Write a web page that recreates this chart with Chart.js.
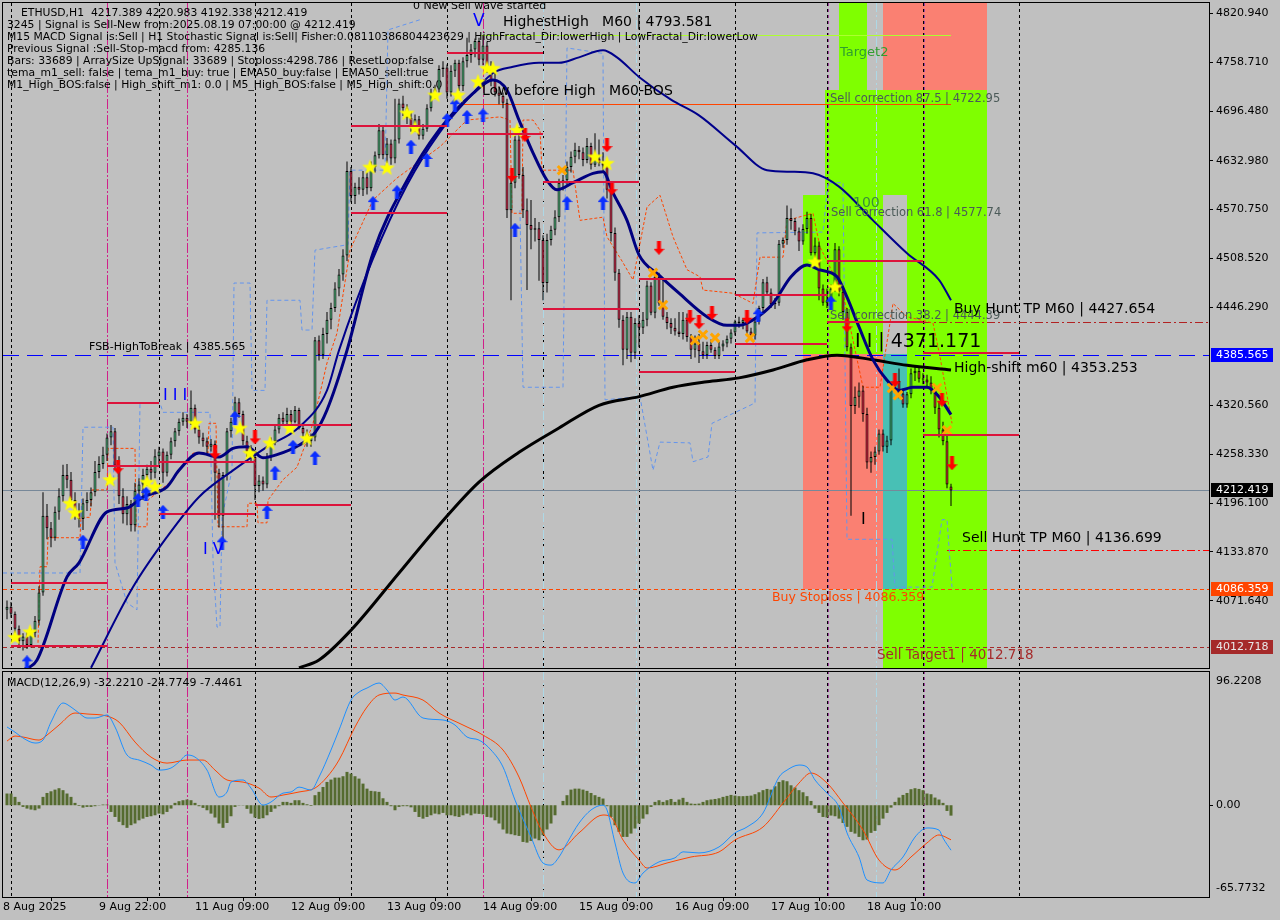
<!DOCTYPE html>
<html>
<head>
<meta charset="utf-8">
<title>ETHUSD,H1</title>
<script src="https://cdn.jsdelivr.net/npm/chart.js@4.4.1/dist/chart.umd.min.js"></script>
<style>
  html, body { margin: 0; padding: 0; background: #C0C0C0; }
  #stage { position: relative; width: 1280px; height: 920px; overflow: hidden; background: #C0C0C0; }
  #priceCanvas { position: absolute; left: 0; top: 0; }
  #macdCanvas { position: absolute; left: 0; top: 670px; }
</style>
</head>
<body>
<div id="stage">
  <canvas id="priceCanvas" width="1280" height="670"></canvas>
  <canvas id="macdCanvas" width="1280" height="250"></canvas>
</div>
<script>
// ---------------- ETHUSD H1 candles (bar 0 = 8 Aug 22:00) ----------------
const opens = [
4060,4064,4055,4036,4020,4026,4015,4030,4046,4082,
4180,4164,4152,4185,4205,4232,4226,4200,4186,4176,
4196,4200,4210,4236,4246,4258,4280,4288,4244,4205,
4182,4195,4168,4212,4220,4232,4240,4235,4256,4262,
4235,4258,4275,4288,4300,4305,4300,4318,4290,4280,
4275,4268,4272,4235,4180,4232,4288,4300,4325,4310,
4275,4262,4255,4218,4225,4220,4255,4275,4290,4305,
4300,4310,4300,4315,4292,4285,4275,4280,4404,4385,
4412,4430,4445,4470,4488,4512,4620,4588,4600,4596,
4612,4598,4625,4640,4672,4640,4655,4636,4660,4706,
4700,4688,4676,4686,4665,4674,4700,4720,4724,4750,
4752,4720,4748,4758,4728,4760,4768,4775,4786,4762,
4780,4752,4735,4720,4716,4707,4570,4605,4660,4615,
4570,4551,4545,4547,4532,4477,4532,4545,4561,4605,
4608,4625,4638,4647,4644,4634,4652,4628,4636,4630,
4627,4596,4541,4490,4430,4392,4434,4388,4426,4420,
4430,4474,4439,4485,4451,4434,4426,4420,4415,4412,
4430,4408,4392,4400,4390,4385,4398,4392,4384,4396,
4400,4406,4414,4428,4426,4430,4415,4410,4428,4445,
4478,4465,4450,4452,4527,4532,4560,4556,4543,4530,
4546,4560,4515,4525,4470,4452,4455,4470,4520,4466,
4440,4395,4320,4332,4340,4310,4248,4255,4262,4285,
4268,4276,4345,4352,4336,4322,4335,4362,4365,4355,
4354,4350,4340,4318,4290,4275,4217.389];
const highs = [
4072,4070,4058,4040,4030,4032,4036,4052,4090,4210,
4195,4172,4192,4215,4245,4246,4236,4210,4196,4202,
4210,4216,4250,4256,4268,4285,4296,4292,4256,4215,
4205,4200,4222,4228,4240,4245,4250,4265,4268,4266,
4262,4280,4292,4304,4312,4310,4340,4322,4295,4286,
4280,4278,4276,4240,4236,4292,4305,4332,4330,4314,
4282,4270,4258,4232,4230,4260,4280,4295,4310,4312,
4318,4315,4320,4318,4296,4290,4285,4408,4410,4420,
4440,4452,4478,4495,4520,4632,4625,4605,4612,4620,
4618,4632,4645,4680,4676,4662,4660,4712,4712,4716,
4705,4695,4692,4690,4680,4705,4725,4730,4755,4760,
4756,4755,4762,4762,4765,4790,4782,4789,4790,4793.581,
4785,4760,4745,4728,4720,4712,4612,4665,4676,4625,
4585,4583,4560,4555,4538,4540,4550,4570,4610,4615,
4632,4645,4656,4652,4650,4662,4656,4668,4660,4644,
4632,4600,4548,4495,4436,4440,4440,4432,4436,4440,
4480,4478,4490,4490,4482,4440,4432,4432,4440,4440,
4438,4412,4410,4412,4402,4402,4405,4395,4402,4404,
4410,4418,4430,4434,4432,4434,4420,4432,4448,4482,
4485,4470,4458,4532,4535,4576,4572,4560,4548,4552,
4568,4565,4535,4530,4475,4470,4475,4528,4524,4470,
4445,4400,4345,4350,4346,4318,4262,4268,4290,4290,
4282,4348,4360,4368,4342,4338,4368,4372,4370,4362,
4360,4358,4345,4325,4300,4282,4220.983];
const lows = [
4048,4050,4030,4012,4008,4010,4012,4025,4040,4078,
4150,4140,4148,4175,4198,4215,4195,4175,4165,4162,
4186,4192,4205,4228,4240,4250,4270,4238,4195,4170,
4168,4160,4160,4200,4200,4218,4225,4228,4245,4222,
4230,4252,4268,4282,4295,4292,4296,4285,4272,4268,
4260,4262,4175,4165,4150,4225,4280,4296,4305,4270,
4255,4248,4200,4210,4212,4215,4250,4270,4285,4295,
4296,4296,4298,4290,4280,4268,4268,4275,4378,4380,
4400,4418,4440,4460,4480,4505,4580,4578,4590,4588,
4590,4594,4618,4636,4635,4630,4628,4630,4655,4690,
4680,4670,4670,4660,4660,4670,4696,4712,4720,4740,
4712,4715,4740,4722,4722,4752,4758,4765,4755,4755,
4745,4728,4715,4705,4700,4560,4455,4598,4610,4560,
4468,4520,4530,4480,4455,4465,4525,4538,4555,4595,
4600,4618,4630,4635,4626,4630,4622,4625,4626,4620,
4585,4530,4480,4420,4372,4380,4376,4380,4395,4412,
4422,4436,4432,4448,4430,4418,4412,4410,4408,4405,
4402,4380,4382,4375,4380,4380,4388,4380,4380,4390,
4395,4400,4410,4420,4418,4412,4405,4405,4424,4440,
4462,4445,4444,4448,4522,4526,4545,4538,4518,4526,
4540,4512,4508,4455,4448,4445,4450,4466,4460,4430,
4390,4180,4310,4318,4300,4240,4235,4245,4258,4262,
4260,4270,4338,4330,4318,4318,4330,4352,4350,4348,
4345,4335,4310,4280,4270,4215,4192.338];
const closes = [
4064,4055,4036,4020,4026,4015,4030,4046,4082,4180,
4164,4152,4185,4205,4232,4226,4200,4186,4176,4196,
4200,4210,4236,4246,4258,4280,4288,4244,4205,4182,
4195,4168,4212,4220,4232,4240,4235,4256,4262,4235,
4258,4275,4288,4300,4305,4300,4318,4290,4280,4275,
4268,4272,4235,4180,4232,4288,4300,4325,4310,4275,
4262,4255,4218,4225,4220,4255,4275,4290,4305,4300,
4310,4300,4315,4292,4285,4275,4280,4404,4385,4412,
4430,4445,4470,4488,4512,4620,4588,4600,4596,4612,
4598,4625,4640,4672,4640,4655,4636,4660,4706,4700,
4688,4676,4686,4665,4674,4700,4720,4724,4750,4752,
4720,4748,4758,4728,4760,4768,4775,4786,4762,4780,
4752,4735,4720,4716,4707,4570,4605,4660,4615,4570,
4551,4545,4547,4532,4477,4532,4545,4561,4605,4608,
4625,4638,4647,4644,4634,4652,4628,4636,4630,4627,
4596,4541,4490,4430,4392,4434,4388,4426,4420,4430,
4474,4439,4485,4451,4434,4426,4420,4415,4412,4430,
4408,4392,4400,4390,4385,4398,4392,4384,4396,4400,
4406,4414,4428,4426,4430,4415,4410,4428,4445,4478,
4465,4450,4452,4527,4532,4560,4556,4543,4530,4546,
4560,4515,4525,4470,4452,4455,4470,4520,4466,4440,
4395,4320,4332,4340,4310,4248,4255,4262,4285,4268,
4276,4345,4352,4336,4322,4335,4362,4365,4355,4354,
4350,4340,4318,4290,4275,4220,4212.419];

// ---------------- moving averages (bar index, price) ----------------
const emaFastIdx = [4,7.5,15,18,25,30,34,40,43,48,53,56.5,60,64,67.5,73,77,80,85,91.5,100,108,116.5,121.5,125,128,131.5,135,137.5,141.5,146.5,149,151.5,155,158,163,168,175,180,183,186.5,191.5,196,200,203,207.5,210,213,216.5,220,223,226.5,230,233,236];
const emaFastVal = [3983,3996,4102,4120,4185,4190,4204,4217,4238,4260,4255,4266,4268,4254,4258,4270,4286,4315,4391,4515,4608,4672,4719,4736,4723,4685,4643,4608,4596,4605,4617,4619,4592,4557,4513,4487,4464,4434,4423,4423,4430,4451,4485,4500,4494,4485,4459,4421,4379,4353,4340,4344,4344,4332,4309];
const emaSlowIdx = [21,31.5,40,48,56.5,65,73,80,83,91.5,100,108,116.5,121.5,126.5,133,138,143,149,152.5,158,166,173,182,190,196,201.5,208,216.5,225,233,236];
const emaSlowVal = [3986,4089,4153,4204,4238,4268,4293,4340,4391,4508,4602,4668,4719,4745,4753,4758,4758,4765,4774,4765,4740,4711,4691,4653,4621,4619,4617,4600,4557,4515,4481,4455];
const smaIdx = [73,78,86,98,108,118,128,138,148,158,166.5,175,183,191.5,200,207.5,216.5,225,236];
const smaVal = [3986,3996,4034,4107,4168,4223,4261,4292,4321,4332,4344,4351,4356,4366,4379,4385,4379,4372,4366];

// ---------------- stepped channel traces ----------------
const orangePathIdx = [7.75,8.25,10,10.25,18.25,18.5,20.75,21.25,25,25.25,32,32.25,35,35.25,41.5,46.5,50.25,50.5,52.25,52.75,60,60.25,62.5,62.75,65,65.25,69,72.5,76.5,80,82.5,85.75,91.5,97.5,108.25,115,123.25,125.75,126.25,128.75,129,131.5,133.25,133.75,141.5,143.25,149,150,154,156.5,160,163.25,166.5,170,173.25,174,181.5,186.5,188.25,194,195,201.5,203.25,209,214,218.25,221.5,225,231.5,233.25,236.25];
const orangePathVal = [4018,4115,4115,4152,4152,4178,4178,4213,4213,4266,4266,4166,4166,4200,4226,4260,4260,4298,4298,4166,4166,4196,4196,4171,4171,4200,4226,4242,4298,4375,4413,4519,4583,4611,4651,4685,4689,4685,4566,4566,4685,4685,4672,4621,4621,4557,4561,4536,4503,4481,4574,4589,4536,4494,4485,4468,4464,4451,4510,4510,4557,4566,4523,4464,4344,4344,4451,4434,4426,4383,4298];
const bluePathIdx = [-1,18.25,19,26.5,27,30,32.5,33.25,38.25,39,50.75,51.5,52.5,53.25,53.75,56.25,56.75,60.75,61.25,64.5,65,73.25,73.75,76.25,77,85.25,85.75,94.5,95.25,103.25,110,128.25,129,139,140,149,149.5,158.25,161.5,163.25,170.75,171.5,175.25,176.25,185,187,187.5,204,205.25,209,210,221.25,222,231.25,233.75,235,236.25];
const bluePathVal = [4107,4107,4293,4293,4120,4069,4060,4324,4324,4312,4312,4124,4038,4038,4178,4238,4477,4477,4340,4340,4455,4455,4417,4417,4519,4526,4621,4621,4800,4813,null,4570,4344,4344,4777,4770,4328,4332,4238,4274,4273,4249,4255,4298,4319,4324,4541,4542,4605,4605,4150,4150,4089,4089,4175,4175,4089];

// ---------------- signal markers ----------------
const starIdx = [2,5.75,15.75,17,25.75,35,37,47,58.25,60.75,65.75,70.75,75,90.75,95,100,102,107,112.75,117.75,120,121.5,127.5,147,150,202,207];
const starVal = [4025,4032,4196,4184,4226,4223,4217,4298,4292,4260,4273,4292,4279,4625,4624,4694,4675,4717,4717,4734,4751,4751,4672,4638,4630,4504,4472];
const upIdx = [5,19,32.75,34.75,39,53.75,57,65,67,71.5,77,91.5,97.5,101,105,110,112,115,119,127,140,149,187.75,206];
const upVal = [3993,4147,4200,4208,4185,4145,4305,4185,4235,4268,4254,4579,4593,4651,4634,4685,4704,4689,4691,4545,4579,4579,4436,4452];
const downIdx = [27.75,52,62,126.25,129.5,150,151.25,163,170.75,173,176.25,185,210,222,233.75,236.25];
const downVal = [4242,4261,4280,4615,4666,4653,4598,4522,4434,4427,4439,4434,4423,4353,4328,4247];
const crossIdx = [138.75,161.5,164,172,174,177,185.75,221.25,222.75,232.5,235];
const crossVal = [4621,4490,4449,4404,4411,4407,4407,4343,4334,4343,4289];

// ---------------- daily high / low levels ----------------
const levelFrom = [1,1,25,25,38,38,62,62,86,86,110,110,134,134,158,158,182,182,205,205,229,229];
const levelTo = [25,25,38,38,62,62,86,86,110,110,134,134,158,158,182,182,205,205,229,229,253,253];
const levelPrice = [4094,4014,4324,4243,4249,4182,4296,4194,4677,4566,4771,4667,4606,4444,4482,4363,4462,4399,4505,4427,4388,4283];

// ---------------- target / correction zones ----------------
const zoneFrom = [208,219,204.5,199,225,199,219,219];
const zoneTo = [215,245,245,219,245,219,225,225];
const zoneLow = [4722.95,4722.95,4589,4386,3980,4086.359,4086.359,3980];
const zoneHigh = [4840,4840,4722.95,4589,4589,4386,4386,4086.359];
const zoneKind = ['target','stop','target','target','target','stop','hunt','target'];

// ---------------- horizontal levels ----------------
const hLinePrice = [4385.565,4212.419,4086.359,4012.718,4427.654,4136.699,4793.581,4706];
const hLineFrom = [-1,-1,-1,-1,229,235,117.5,114];
const hLineTo = [300.5,300.5,300.5,300.5,300.5,300.5,236,236];

// ---------------- axis values ----------------
const priceTicks = [4820.94,4758.71,4696.48,4632.98,4570.75,4508.52,4446.29,4320.56,4258.33,4196.10,4133.87,4071.64];
const priceBoxes = [4385.565,4212.419,4086.359,4012.718];
const timeTickIdx = [-1,23,47,71,95,119,143,167,191,215];
const timeLabels = ['8 Aug 2025','9 Aug 22:00','11 Aug 09:00','12 Aug 09:00','13 Aug 09:00','14 Aug 09:00','15 Aug 09:00','16 Aug 09:00','17 Aug 10:00','18 Aug 10:00'];
const daySepIdx = [1,38,62,86,110,134,158,182,205,229,253];
const magentaIdx = [25,45,119];
const violetIdx = [205,229];
const skyIdx = [134,157.25,217.25];

// ---------------- MACD(12,26,9) ----------------
const macdIdx = [0,2,4,7,9,11,14,16,18,20,22,25,27,30,33,36,38,41,43,45,47,50,53,55,56,59,61,64,66,69,71,73,76,78,81,83,86,88,90,93,95,97,99,104,109,112,115,118,121,124,127,131,134,136,138,140,143,146,149,150,152,154,157,159,163,167,169,173,178,182,185,189,193,195,198,200,202,205,208,210,213,215,219,221,224,227,230,233,234,236];
const macdVal = [56.1,52.4,48.2,44.6,46.7,59.6,73.3,70.4,66.1,62.5,62.5,64.7,56.1,36.0,32.4,28.8,25.2,26.7,31.0,36.0,34.5,25.2,5.9,9.5,16.6,18.1,12.3,0.1,2.3,8.7,9.5,13.0,10.9,20.2,39.6,53.9,75.4,81.1,84.0,87.6,82.6,75.4,77.6,62.5,61.1,57.5,48.9,46.7,39.6,27.4,3.7,-22.8,-41.4,-42.9,-37.1,-27.1,-12.8,-3.4,0.1,-3.4,-27.1,-48.6,-55.7,-48.6,-40.6,-37.7,-33.4,-34.2,-29.9,-19.8,-15.6,-5.6,20.2,25.2,28.8,27.4,18.1,8.7,-1.3,-19.8,-37.1,-53.6,-55.7,-46.4,-37.1,-22.8,-16.3,-17.8,-23.5,-32.221];
const signalIdx = [0,2,4,8,10,13,17,20,25,28,32,36,40,45,49,52,55,59,63,66,69,73,77,80,83,87,90,93,97,99,104,108,114,119,124,128,131,134,138,143,149,151,154,158,160,165,171,178,182,189,194,198,201,205,209,214,218,222,226,230,233,236];
const signalVal = [46.0,49.6,48.9,46.7,50.3,57.5,66.1,65.4,63.9,59.6,45.3,34.5,30.2,32.4,32.4,25.2,18.1,16.6,12.3,5.9,7.3,9.5,12.3,20.2,32.4,56.1,70.4,79.0,80.4,79.0,75.4,66.1,57.5,50.3,39.6,20.2,-1.3,-19.8,-32.0,-19.8,-7.0,-8.5,-24.9,-39.3,-45.0,-41.4,-37.1,-33.5,-24.9,-15.6,1.6,15.9,23.1,15.9,1.6,-17.8,-39.3,-46.4,-37.1,-27.0,-21.3,-24.775];
const histVal = [
8.4,8.4,6.0,2.4,-1.2,-2.4,-3.1,-3.6,-2.4,6.0,
8.8,10.0,11.2,12.2,10.8,8.4,6.0,1.7,-0.5,-1.7,
-1.2,-1.2,-0.7,-0.2,0.5,0.5,-4.8,-8.4,-11.9,-14.3,
-16.2,-14.3,-13.1,-10.8,-9.6,-8.4,-7.9,-7.2,-6.0,-6.5,
-4.8,-2.4,1.7,2.9,3.6,4.1,3.6,1.7,-0.7,-1.9,
-3.6,-6.0,-8.8,-13.1,-16.2,-12.7,-7.9,-1.2,-0.2,-0.2,
-2.6,-6.0,-8.8,-9.8,-9.3,-7.2,-4.8,-2.4,-0.7,2.4,
2.4,1.7,3.6,3.6,1.7,0.7,-0.5,7.2,9.6,13.1,
16.7,18.4,19.8,19.8,20.8,23.9,22.7,20.8,19.1,15.5,
11.9,10.3,10.0,9.6,5.0,2.4,-0.7,-3.6,-1.2,-0.7,
-0.7,-1.5,-4.8,-8.4,-9.6,-8.4,-7.2,-6.0,-6.5,-5.5,
-7.2,-7.2,-7.9,-8.4,-7.2,-6.0,-7.2,-6.0,-6.2,-6.5,
-8.4,-8.8,-10.8,-13.1,-17.4,-20.3,-20.8,-21.5,-22.0,-26.3,
-26.8,-25.6,-23.9,-25.1,-21.5,-17.4,-13.1,-7.2,0,3.1,
7.2,11.2,11.9,11.9,11.2,10.3,8.8,7.2,6.0,4.8,
-0.7,-8.4,-14.3,-19.1,-22.7,-22.7,-20.3,-16.7,-13.1,-9.6,
-6.5,-1.2,2.4,3.6,2.4,3.6,4.5,2.4,4.1,5.3,
2.4,1.2,1.0,1.2,2.4,3.6,4.1,4.5,5.0,6.0,
6.7,7.4,6.9,6.5,6.5,6.7,6.9,7.9,9.3,10.8,
11.7,11.2,13.6,16.7,17.9,17.2,14.3,12.7,10.8,9.3,
6.5,3.1,-2.4,-5.5,-8.4,-8.8,-7.4,-7.9,-9.6,-12.7,
-15.5,-19.1,-20.3,-22.7,-25.1,-24.6,-19.8,-18.4,-14.3,-9.6,
-5.5,-1.7,2.4,5.5,7.4,8.8,11.5,12.2,11.7,10.8,
8.4,7.9,5.5,4.1,1.7,-4.1,-7.45];
const macdRange = [-65.7732, 96.2208];

// ---------------- text ----------------
const headerLines = [
  'ETHUSD,H1  4217.389 4220.983 4192.338 4212.419',
  '3245 | Signal is Sell-New from:2025.08.19 07:00:00 @ 4212.419',
  'M15 MACD Signal is:Sell | H1 Stochastic Signal is:Sell| Fisher:0.08110386804423629 | HighFractal_Dir:lowerHigh | LowFractal_Dir:lowerLow',
  'Previous Signal :Sell-Stop-macd from: 4285.136',
  'Bars: 33689 | ArraySize UpSignal: 33689 | Stoploss:4298.786 | ResetLoop:false',
  'tema_m1_sell: false | tema_m1_buy: true | EMA50_buy:false | EMA50_sell:true',
  'M1_High_BOS:false | High_shift_m1: 0.0 | M5_High_BOS:false | M5_High_shift:0.0'
];
const noteText = ['0 New Sell wave started','HighestHigh   M60 | 4793.581','Low before High   M60-BOS','Target2','Sell correction 87.5 | 4722.95','100','Sell correction 61.8 | 4577.74','Sell correction 38.2 | 4444.39','Buy Hunt TP M60 | 4427.654','I I | 4371.171','High-shift m60 | 4353.253','FSB-HighToBreak | 4385.565','Sell Hunt TP M60 | 4136.699','Buy Stoploss | 4086.359','Sell Target1 | 4012.718','I I I','I V','V','I'];
const noteIdx = [101.5,124,118.75,208.25,205.75,211.5,206,205.75,236.75,212,236.75,20.5,238.75,191.25,217.5,39,49,116.5,213.5];
const notePrice = [4830.5,4810.1,4722.0,4770.5,4711.8,4579.0,4566.4,4434.9,4443.9,4401.8,4368.6,4395.4,4151.6,4075.1,4001.1,4332.9,4136.3,4810.0,4174.6];
const noteSize = [11,14,14,13,11.5,14,11.5,11.5,14,19,14,11,14,12.5,13.5,16,16,17,16];
const noteColor = ['#000000','#000000','#000000','#2F9E2F','#4B5A58','#3B8F3B','#4B5A58','#4B5A58','#000000','#000000','#000000','#000000','#000000','#FF4500','#A52A2A','#0000FF','#0000FF','#0000FF','#000000'];

// ---------------- styling ----------------
const FACE = '"DejaVu Sans", "Liberation Sans", sans-serif';
const font = s => s + 'px ' + FACE;
const BULL = '#3CB371', BEAR = '#DC143C', BG = '#C0C0C0';
const zoneColors = { target: '#7FFF00', stop: '#FA8072', hunt: '#48C0B5' };
const hLineColor = ['#0000FF','#778899','#FF4500','#A52A2A','#B22222','#FF0000','#ADFF2F','#FF4500'];
const hLineDash = [[16,8],[],[4,3],[4,3],[8,3,2,3],[8,3,2,3],[],[]];
const boxBg = ['#0000FF','#000000','#FF4500','#A52A2A'];
const boxFg = ['#FFFFFF','#FFFFFF','#FFFFFF','#E8E8E8'];

function makeStar() {
  const c = document.createElement('canvas'); c.width = 17; c.height = 17;
  const g = c.getContext('2d'); g.fillStyle = '#FFFF00'; g.beginPath();
  for (let k = 0; k < 10; k++) {
    const r = k % 2 ? 3.3 : 8.3, a = -Math.PI / 2 + k * Math.PI / 5;
    g.lineTo(8.5 + r * Math.cos(a), 9 + r * Math.sin(a));
  }
  g.closePath(); g.fill(); return c;
}
function makeArrow(color, up) {
  const c = document.createElement('canvas'); c.width = 11; c.height = 14;
  const g = c.getContext('2d'); g.fillStyle = color; g.beginPath();
  const pts = [[5.5,0],[11,6],[7.5,6],[7.5,14],[3.5,14],[3.5,6],[0,6]];
  pts.forEach(([px, py], k) => { const yy = up ? py : 14 - py; k ? g.lineTo(px, yy) : g.moveTo(px, yy); });
  g.closePath(); g.fill(); return c;
}
const starImg = makeStar(), upImg = makeArrow('#0A2EFF', true), downImg = makeArrow('#FF0000', false);

const pairs = (xs, ys) => xs.map((v, k) => ({ x: v, y: ys[k] }));

function clipArea(ctx, a) { ctx.beginPath(); ctx.rect(a.left, a.top, a.right - a.left, a.bottom - a.top); ctx.clip(); }
function drawSeparators(ctx, x, top, bottom) {
  const v = (idx, color, dash) => {
    const p = Math.round(x.getPixelForValue(idx)) + 0.5;
    ctx.strokeStyle = color; ctx.lineWidth = 1; ctx.setLineDash(dash);
    ctx.beginPath(); ctx.moveTo(p, top); ctx.lineTo(p, bottom); ctx.stroke();
  };
  daySepIdx.forEach(i => v(i, '#000000', [3, 3]));
  violetIdx.forEach(i => v(i + 0.25, '#A040A0', [3, 3]));
  skyIdx.forEach(i => v(i, '#ADD8E6', [9, 3, 2, 3]));
  magentaIdx.forEach(i => v(i, '#D0208A', [10, 2, 2, 2]));
  ctx.setLineDash([]);
}

// ---------------- price panel ----------------
const pricePanel = {
  id: 'pricePanel',
  beforeDraw(chart) {
    const ctx = chart.ctx; ctx.save(); ctx.fillStyle = BG; ctx.fillRect(0, 0, chart.width, chart.height); ctx.restore();
  },
  beforeDatasetsDraw(chart) {
    const { ctx, chartArea: a, scales: { x, y } } = chart;
    ctx.save(); clipArea(ctx, a);
    zoneFrom.forEach((f, k) => {
      const x1 = Math.round(x.getPixelForValue(f)), x2 = Math.round(x.getPixelForValue(zoneTo[k]));
      const y1 = Math.round(y.getPixelForValue(zoneHigh[k])), y2 = Math.round(y.getPixelForValue(zoneLow[k]));
      ctx.fillStyle = zoneColors[zoneKind[k]]; ctx.fillRect(x1, y1, x2 - x1, y2 - y1);
    });
    drawSeparators(ctx, x, a.top, a.bottom);
    hLinePrice.forEach((p, k) => {
      const yy = Math.round(y.getPixelForValue(p)) + 0.5;
      ctx.strokeStyle = hLineColor[k]; ctx.lineWidth = 1; ctx.setLineDash(hLineDash[k]);
      ctx.beginPath(); ctx.moveTo(x.getPixelForValue(hLineFrom[k]), yy); ctx.lineTo(x.getPixelForValue(hLineTo[k]), yy); ctx.stroke();
    });
    ctx.setLineDash([]);
    ctx.fillStyle = '#000'; ctx.font = font(10.8); ctx.textAlign = 'left'; ctx.textBaseline = 'middle';
    headerLines.forEach((s, k) => ctx.fillText(s, k === 0 ? 21 : 7, 13 + k * 12.1));
    ctx.restore();
  },
  afterDatasetsDraw(chart) {
    const { ctx, chartArea: a, scales: { x, y } } = chart;
    ctx.save(); clipArea(ctx, a);
    ctx.strokeStyle = '#DC143C'; ctx.lineWidth = 2;
    levelPrice.forEach((p, k) => {
      const yy = Math.round(y.getPixelForValue(p));
      ctx.beginPath(); ctx.moveTo(x.getPixelForValue(levelFrom[k]), yy); ctx.lineTo(x.getPixelForValue(levelTo[k]), yy); ctx.stroke();
    });
    ctx.textAlign = 'left'; ctx.textBaseline = 'middle';
    noteText.forEach((s, k) => {
      ctx.font = font(noteSize[k]); ctx.fillStyle = noteColor[k];
      ctx.fillText(s, x.getPixelForValue(noteIdx[k]), y.getPixelForValue(notePrice[k]));
    });
    ctx.restore();
  },
  afterDraw(chart) {
    const { ctx, chartArea: a, scales: { y } } = chart;
    ctx.save();
    ctx.strokeStyle = '#000'; ctx.lineWidth = 1;
    ctx.strokeRect(2.5, 2.5, a.right - 2, a.bottom - 2);
    ctx.font = font(11); ctx.textAlign = 'left'; ctx.textBaseline = 'middle';
    priceBoxes.forEach((p, k) => {
      const yy = Math.round(y.getPixelForValue(p));
      ctx.fillStyle = boxBg[k]; ctx.fillRect(a.right + 2, yy - 7, 62, 14);
      ctx.fillStyle = boxFg[k]; ctx.fillText(p.toFixed(3), a.right + 7, yy + 0.5);
    });
    ctx.restore();
  }
};

const idx = opens.map((_, i) => i);
new Chart(document.getElementById('priceCanvas'), {
  type: 'bar',
  data: {
    datasets: [
      { type: 'line', data: pairs(starIdx, starVal), showLine: false, pointStyle: starImg, pointRadius: 8, order: 1 },
      { type: 'line', data: pairs(upIdx, upVal), showLine: false, pointStyle: upImg, pointRadius: 7, order: 1 },
      { type: 'line', data: pairs(downIdx, downVal), showLine: false, pointStyle: downImg, pointRadius: 7, order: 1 },
      { type: 'line', data: pairs(crossIdx, crossVal), showLine: false, pointStyle: 'crossRot', pointRadius: 6,
        pointBorderColor: '#FFA500', pointBorderWidth: 3, order: 1 },
      { type: 'line', data: pairs(emaFastIdx, emaFastVal), borderColor: '#000080', borderWidth: 3, pointRadius: 0,
        cubicInterpolationMode: 'monotone', order: 3 },
      { type: 'line', data: pairs(emaSlowIdx, emaSlowVal), borderColor: '#00008B', borderWidth: 2, pointRadius: 0,
        cubicInterpolationMode: 'monotone', order: 4 },
      { type: 'line', data: pairs(smaIdx, smaVal), borderColor: '#000000', borderWidth: 3, pointRadius: 0,
        cubicInterpolationMode: 'monotone', order: 5 },
      { type: 'bar', data: idx.map(i => ({ x: i, y: [opens[i], closes[i]] })),
        backgroundColor: idx.map(i => closes[i] >= opens[i] ? BULL : BEAR),
        borderColor: '#000000', borderWidth: 1, borderSkipped: false, barThickness: 3, minBarLength: 1,
        inflateAmount: 0, grouped: false, order: 6 },
      { type: 'bar', data: idx.map(i => ({ x: i, y: [lows[i], highs[i]] })),
        backgroundColor: '#000000', barThickness: 1, inflateAmount: 0, grouped: false, order: 7 },
      { type: 'line', data: pairs(orangePathIdx, orangePathVal), borderColor: '#FF4500', borderWidth: 1,
        borderDash: [3, 2], pointRadius: 0, order: 8 },
      { type: 'line', data: pairs(bluePathIdx, bluePathVal), borderColor: '#6495ED', borderWidth: 1,
        borderDash: [4, 3], pointRadius: 0, spanGaps: false, order: 8 }
    ]
  },
  options: {
    responsive: false, animation: false, devicePixelRatio: 1,
    layout: { autoPadding: false, padding: { left: 3, top: 3, right: 0, bottom: 2 } },
    plugins: { legend: { display: false }, tooltip: { enabled: false } },
    scales: {
      x: { type: 'linear', min: -1, max: 300.5, offset: false, display: false },
      y: {
        type: 'linear', position: 'right', min: 3985.76, max: 4834.34, beginAtZero: false,
        afterFit: s => { s.width = 71; s.paddingTop = 0; s.paddingBottom = 0; },
        afterBuildTicks: s => { s.ticks = priceTicks.map(v => ({ value: v })); },
        ticks: { autoSkip: false, padding: 3, color: '#000', font: { family: FACE, size: 11 }, callback: v => v.toFixed(3) },
        grid: { drawOnChartArea: false, tickLength: 4, color: '#000' },
        border: { color: '#000' }
      }
    }
  },
  plugins: [pricePanel]
});

// ---------------- MACD panel ----------------
const macdPanel = {
  id: 'macdPanel',
  beforeDraw(chart) {
    const ctx = chart.ctx; ctx.save(); ctx.fillStyle = BG; ctx.fillRect(0, 0, chart.width, chart.height); ctx.restore();
  },
  beforeDatasetsDraw(chart) {
    const { ctx, chartArea: a, scales: { x } } = chart;
    ctx.save(); clipArea(ctx, a); drawSeparators(ctx, x, a.top, a.bottom); ctx.restore();
  },
  afterDraw(chart) {
    const { ctx, chartArea: a, scales: { y } } = chart;
    ctx.save();
    ctx.strokeStyle = '#000'; ctx.lineWidth = 1;
    ctx.strokeRect(2.5, a.top + 0.5, a.right - 2, a.bottom - a.top);
    ctx.fillStyle = '#000'; ctx.textAlign = 'left'; ctx.textBaseline = 'middle';
    ctx.font = font(11);
    ctx.fillText('MACD(12,26,9) -32.2210 -24.7749 -7.4461', 7, a.top + 12);
    ctx.fillText(macdRange[1].toFixed(4), a.right + 7, a.top + 10);
    const z = Math.round(y.getPixelForValue(0));
    ctx.fillText('0.00', a.right + 7, z + 0.5);
    ctx.beginPath(); ctx.moveTo(a.right, z + 0.5); ctx.lineTo(a.right + 4, z + 0.5); ctx.stroke();
    ctx.fillText(macdRange[0].toFixed(4), a.right + 7, a.bottom - 9);
    ctx.restore();
  }
};

new Chart(document.getElementById('macdCanvas'), {
  type: 'bar',
  data: {
    datasets: [
      { type: 'line', data: pairs(macdIdx, macdVal), borderColor: '#1E90FF', borderWidth: 1, pointRadius: 0,
        cubicInterpolationMode: 'monotone', order: 1 },
      { type: 'line', data: pairs(signalIdx, signalVal), borderColor: '#FF4500', borderWidth: 1, pointRadius: 0,
        cubicInterpolationMode: 'monotone', order: 2 },
      { type: 'bar', data: histVal.map((v, i) => ({ x: i, y: v })), backgroundColor: '#556B2F',
        barThickness: 3, inflateAmount: 0, grouped: false, order: 3 }
    ]
  },
  options: {
    responsive: false, animation: false, devicePixelRatio: 1,
    layout: { autoPadding: false, padding: { left: 3, top: 1, right: 0, bottom: 0 } },
    plugins: { legend: { display: false }, tooltip: { enabled: false } },
    scales: {
      x: {
        type: 'linear', min: -1, max: 300.5, offset: false,
        afterFit: s => { s.height = 23; s.paddingLeft = 0; s.paddingRight = 0; },
        afterBuildTicks: s => { s.ticks = timeTickIdx.map(v => ({ value: v })); },
        ticks: { autoSkip: false, maxRotation: 0, align: 'start', padding: 0, color: '#000',
                 font: { family: FACE, size: 11 }, callback: (v, k) => timeLabels[k] },
        grid: { drawOnChartArea: false, tickLength: 4, color: '#000' },
        border: { color: '#000' }
      },
      y: {
        type: 'linear', position: 'right', min: macdRange[0], max: macdRange[1], beginAtZero: false,
        afterFit: s => { s.width = 71; s.paddingTop = 0; s.paddingBottom = 0; },
        ticks: { display: false }, grid: { display: false }, border: { color: '#000' }
      }
    }
  },
  plugins: [macdPanel]
});
</script>
</body>
</html>
